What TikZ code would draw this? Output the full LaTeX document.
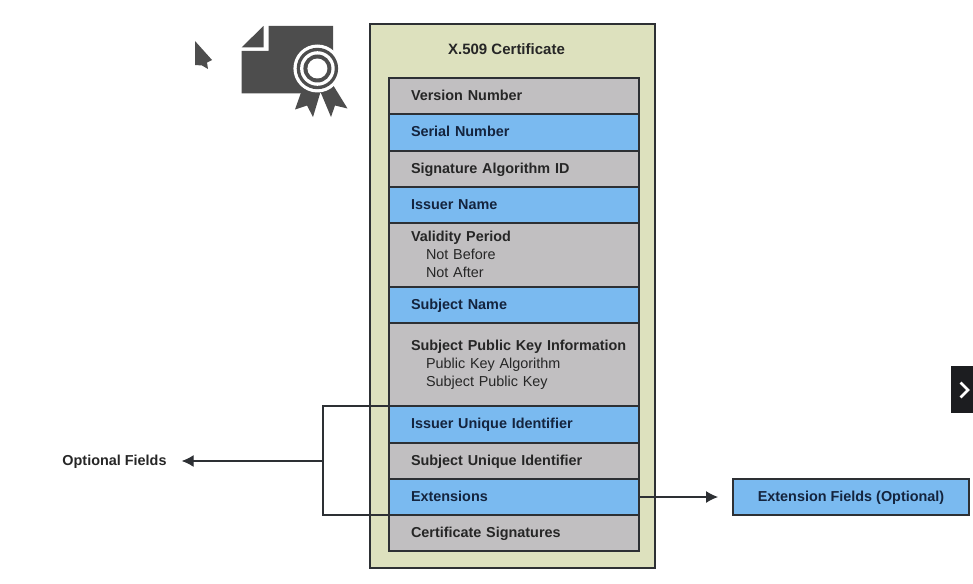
\documentclass[tikz,border=0pt]{standalone}
\usepackage{fontspec}
\setmainfont{Liberation Sans}
\usepackage{xcolor}
\definecolor{certolive}{RGB}{221,225,190}
\definecolor{rowgrey}{RGB}{193,191,193}
\definecolor{rowblue}{RGB}{122,186,240}
\definecolor{edgedark}{RGB}{45,48,52}
\definecolor{bluetext}{RGB}{20,36,62}
\definecolor{icongrey}{RGB}{77,77,77}
\definecolor{tabdark}{RGB}{28,29,32}
\usetikzlibrary{positioning,arrows.meta}
\newcommand{\rowfont}{\fontsize{14.4}{18}\selectfont}
\newcommand{\rowstrut}{\rule[-4.7pt]{0pt}{18pt}}
\tikzset{
    row/.style={draw=edgedark, line width=1.3pt, outer sep=0pt, inner xsep=22pt, inner ysep=0pt,
        minimum width=250pt, text width=206pt, align=left, font=\rowfont,
        execute at begin node=\rowstrut, execute at end node=\rowstrut},
    greyrow/.style={row, fill=rowgrey, text=black!85},
    bluerow/.style={row, fill=rowblue, text=bluetext},
    plainlabel/.style={font=\bfseries\rowfont, text=black!85, inner sep=0pt,
        execute at begin node=\rowstrut},
    link/.style={draw=edgedark, line width=1.3pt},
    linkarrow/.style={draw=edgedark, line width=1.1pt, -{Latex[length=12pt,width=12pt]}, shorten >=15pt}
}

\begin{document}
\begin{tikzpicture}[x=1pt, y=-1pt]
    \useasboundingbox (0,0) rectangle (973,583);

    \node [draw=edgedark, line width=1.3pt, fill=certolive, minimum width=285pt, minimum height=544pt, outer sep=0pt] (certbox) at (512.5,296) {};
    \node [plainlabel, font=\bfseries\fontsize{15}{18}\selectfont] (certtitle) at (506.5,50) {X.509 Certificate};

    \node [greyrow, anchor=north west, minimum height=36pt] (version) at (389,78) {\textbf{Version Number}};
    \node [bluerow, minimum height=37pt, below=0pt of version] (serial) {\textbf{Serial Number}};
    \node [greyrow, minimum height=36pt, below=0pt of serial] (sigalg) {\textbf{Signature Algorithm ID}};
    \node [bluerow, minimum height=36pt, below=0pt of sigalg] (issuer) {\textbf{Issuer Name}};
    \node [greyrow, minimum height=64pt, below=0pt of issuer] (validity) {\textbf{Validity Period}\\\hspace*{15pt}Not Before\\\hspace*{15pt}Not After};
    \node [bluerow, minimum height=36pt, below=0pt of validity] (subject) {\textbf{Subject Name}};
    \node [greyrow, minimum height=83pt, below=0pt of subject] (pubkey) {\mbox{\textbf{Subject Public Key Information}}\\\hspace*{15pt}Public Key Algorithm\\\hspace*{15pt}Subject Public Key};
    \node [bluerow, minimum height=37pt, below=0pt of pubkey] (issuerid) {\textbf{Issuer Unique Identifier}};
    \node [greyrow, minimum height=36pt, below=0pt of issuerid] (subjectid) {\textbf{Subject Unique Identifier}};
    \node [bluerow, minimum height=36pt, below=0pt of subjectid] (extensions) {\textbf{Extensions}};
    \node [greyrow, minimum height=36pt, below=0pt of extensions] (signatures) {\textbf{Certificate Signatures}};

    \node [plainlabel] (optional) at (114.5,461) {Optional Fields};
    \node [plainlabel, draw=edgedark, line width=1.3pt, fill=rowblue, text=bluetext, outer sep=0pt, minimum width=236pt, minimum height=36pt] (extfields) at (851,497) {Extension Fields (Optional)};

    \coordinate (bracket) at (323,461);
    \draw [link] (issuerid.north west) -| (bracket);
    \draw [link] (extensions.south west) -| (bracket);
    \draw [linkarrow] (bracket) -- (optional.east |- bracket);
    \draw [linkarrow] (extensions.east) -- (extfields.west);

    \fill [icongrey] (263.5,26) -- (241.5,47.5) -- (263.5,47.5) -- cycle;
    \fill [icongrey] (268.5,26) -- (333,26) -- (333,60) -- (301,93.5) -- (241.5,93.5) -- (241.5,51) -- (268.5,51) -- cycle;
    \fill [icongrey] (303,87) -- (295,109.5) -- (307,105.5) -- (313,117) -- (320.5,92) -- (331,117) -- (335,105.5) -- (347.5,108.5) -- (333,85) -- cycle;
    \fill [white] (317.4,68.5) circle [radius=24];
    \fill [icongrey] (317.4,68.5) circle [radius=20.7];
    \fill [white] (317.4,68.5) circle [radius=17.3];
    \fill [icongrey] (317.4,68.5) circle [radius=14];
    \fill [white] (317.4,68.5) circle [radius=10];

    \fill [icongrey] (195,41) -- (212,60) -- (207,62.5) -- (208,69) -- (202,65.5) -- (195,65) -- cycle;

    \fill [tabdark] (951,366) rectangle (973,413);
    \draw [white, line width=2.6pt] (960.5,382.5) -- (968,390) -- (960.5,397.5);
\end{tikzpicture}
\end{document}
